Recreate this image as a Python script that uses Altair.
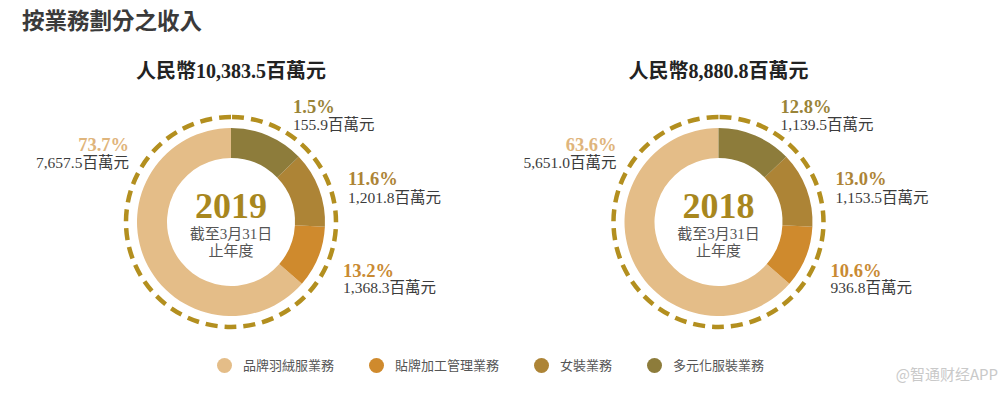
import altair as alt
import pandas as pd

# ---------------- data ----------------
categories = ["品牌羽絨服業務", "貼牌加工管理業務", "女裝業務", "多元化服裝業務"]
years = ["2019", "2018"]
totals = ["10,383.5", "8,880.8"]

values_2019 = [7657.5, 1368.3, 1201.8, 155.9]   # 百萬元
pct_2019 = [73.7, 13.2, 11.6, 1.5]
values_2018 = [5651.0, 936.8, 1153.5, 1139.5]
pct_2018 = [63.6, 10.6, 13.0, 12.8]

# ring proportions as drawn in the reference (both rings are drawn alike)
ring_2019 = [63.6, 10.6, 13.0, 12.8]
ring_2018 = [63.6, 10.6, 13.0, 12.8]

# ---------------- styling / layout ----------------
colors = ["#E4BD88", "#CF8A2D", "#AD8436", "#8D7C3B"]
pct_colors = ["#DFB57C", "#C98A32", "#AD8436", "#9A8438"]
TOP = 8                      # top padding of the drawing
W, H = 991, 380 - TOP
SERIF = "'Liberation Serif', 'Noto Sans CJK TC', serif"
SANS_TC = "'Noto Sans CJK TC', sans-serif"
centers = [(223, 214 - TOP), (710.5, 214 - TOP)]
R_IN, R_OUT, R_RING = 64, 94, 105
# label offsets from ring centre: (dx, dy_pct, dy_val, align) per category
label_layout = [(-102, -77, -59, "right"),
                (112, 49, 66, "left"),
                (117, -43, -24, "left"),
                (62, -115, -97, "left")]

def fmt(v):
    return f"{v:,.1f}"

color_scale = alt.Scale(domain=categories, range=colors)
XP = lambda f: alt.X(f, scale=None, axis=None)
YP = lambda f: alt.Y(f, scale=None, axis=None)

layers = []

# chart title
title_df = pd.DataFrame({"x": [14], "y": [14 - TOP], "t": ["按業務劃分之收入"]})
layers.append(
    alt.Chart(title_df).mark_text(font=SANS_TC, fontSize=22.5, fontWeight="bold",
                                  color="#3A3A3A", align="left", baseline="middle")
    .encode(x=XP("x:Q"), y=YP("y:Q"), text="t:N")
)

for k, (yr, tot, vals, pcts, ring) in enumerate(zip(
        years, totals, [values_2019, values_2018], [pct_2019, pct_2018],
        [ring_2019, ring_2018])):
    cx, cy = centers[k]
    ring_df = pd.DataFrame({"cat": categories, "share": ring,
                            "idx": list(range(len(categories)))})
    donut = alt.Chart(ring_df).mark_arc(innerRadius=R_IN, outerRadius=R_OUT).encode(
        x=alt.value(cx), y=alt.value(cy),
        theta=alt.Theta("share:Q", stack=True),
        color=alt.Color("cat:N", scale=color_scale, sort=categories,
                        legend=alt.Legend(title=None, orient="none", direction="horizontal",
                                          legendX=209, legendY=350 - TOP,
                                          symbolType="circle", symbolSize=225,
                                          symbolStrokeWidth=0, symbolOpacity=1,
                                          labelFont=SERIF, labelFontSize=13,
                                          labelColor="#555555", labelOffset=11,
                                          columnPadding=34)),
        order=alt.Order("idx:Q", sort="descending"),
    )
    layers.append(donut)

    # dashed ring
    dash_df = pd.DataFrame({"v": [1]})
    layers.append(
        alt.Chart(dash_df).mark_arc(radius=R_RING, radius2=0, filled=False,
                                    stroke="#B38F1F", strokeWidth=4.5,
                                    strokeDash=[12, 7])
        .encode(x=alt.value(cx), y=alt.value(cy), theta=alt.Theta("v:Q"))
    )

    # header above ring
    head_df = pd.DataFrame({"x": [cx], "y": [64 - TOP], "t": ["人民幣" + tot + "百萬元"]})
    layers.append(
        alt.Chart(head_df).mark_text(font=SERIF, fontSize=20, fontWeight="bold",
                                     color="#222222", baseline="middle")
        .encode(x=XP("x:Q"), y=YP("y:Q"), text="t:N")
    )

    # centre texts
    ctr_df = pd.DataFrame({"x": [cx], "y": [cy - 15], "t": [yr]})
    layers.append(
        alt.Chart(ctr_df).mark_text(font=SERIF, fontSize=36, fontWeight="bold",
                                    color="#A8871E", baseline="middle")
        .encode(x=XP("x:Q"), y=YP("y:Q"), text="t:N")
    )
    sub_df = pd.DataFrame({"x": [cx, cx], "y": [cy + 12, cy + 29],
                           "t": ["截至3月31日", "止年度"]})
    layers.append(
        alt.Chart(sub_df).mark_text(font=SERIF, fontSize=15, color="#555555",
                                    baseline="middle")
        .encode(x=XP("x:Q"), y=YP("y:Q"), text="t:N")
    )

    # slice labels
    for i, cat in enumerate(categories):
        dx, dyp, dyv, al = label_layout[i]
        lab_df = pd.DataFrame({"x": [cx + dx], "yp": [cy + dyp], "yv": [cy + dyv],
                               "p": [f"{pcts[i]:.1f}%"], "v": [fmt(vals[i]) + "百萬元"]})
        layers.append(
            alt.Chart(lab_df).mark_text(font=SERIF, fontSize=18.5, fontWeight="bold",
                                        color=pct_colors[i], align=al, baseline="middle")
            .encode(x=XP("x:Q"), y=YP("yp:Q"), text="p:N")
        )
        layers.append(
            alt.Chart(lab_df).mark_text(font=SERIF, fontSize=15.5, color="#3C3C3C",
                                        align=al, baseline="middle")
            .encode(x=XP("x:Q"), y=YP("yv:Q"), text="v:N")
        )

# watermark
wm_df = pd.DataFrame({"x": [990], "y": [367 - TOP], "t": ["@智通财经APP"]})
layers.append(
    alt.Chart(wm_df).mark_text(font="'Noto Sans CJK SC', sans-serif", fontSize=15,
                               color="#C9C9C9", align="right", baseline="middle")
    .encode(x=XP("x:Q"), y=YP("y:Q"), text="t:N")
)

chart = alt.layer(*layers).resolve_scale(theta="independent").properties(
    width=W, height=H, autosize="none", background="white",
    padding={"left": 0, "top": TOP, "right": 0, "bottom": 0}
).configure_view(strokeWidth=0, stroke=None)

chart.save("out.html", embed_options={"renderer": "svg", "actions": False})
